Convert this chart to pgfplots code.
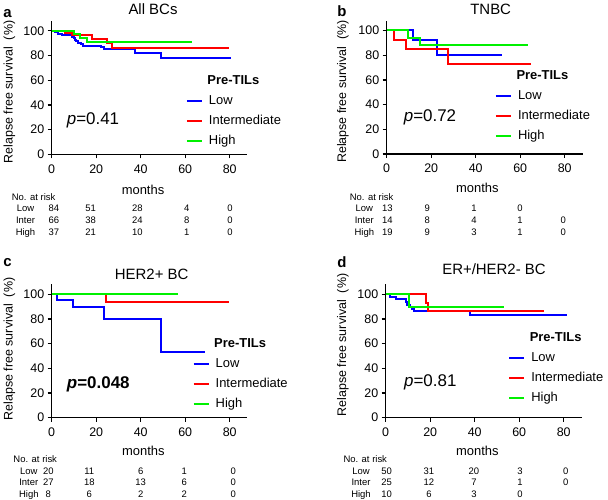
\documentclass[border=0pt]{standalone}
\usepackage{fontspec}
\setmainfont{Liberation Sans}
\usepackage{pgfplots}
\pgfplotsset{compat=1.18}
\definecolor{cLow}{RGB}{0,0,255}
\definecolor{cInt}{RGB}{255,0,0}
\definecolor{cHigh}{RGB}{0,240,0}
\newcommand\fs[1]{\fontsize{#1}{#1}\selectfont}
\pgfplotsset{
 km/.style={
   scale only axis, width=195.8bp, height=133.4bp,
   xmin=0, xmax=88, ymin=0, ymax=108,
   axis x line*=bottom, axis y line*=left,
   axis line style={line width=1.3bp, black},
   xtick={0,20,40,60,80}, ytick={0,20,40,60,80,100},
   tick align=outside, major tick length=4bp,
   tick style={line width=1.3bp, black},
   tick label style={font=\fs{12.5}},
   /pgf/number format/assume math mode=true,
   xticklabel style={yshift=-2.5bp},
   clip=false,
   legend cell align=left,
   legend style={draw=none, fill=none, inner sep=0pt, outer sep=0pt, anchor=north west,
      font=\fs{13},
      nodes={text height=9.4bp, text depth=2.6bp, inner ysep=4bp, inner xsep=3bp},
      column sep=3bp, row sep=0pt},
   legend image code/.code={\draw[#1, line width=2bp] (0bp,0bp) -- (15bp,0bp);},
   every axis plot/.append style={const plot, line width=2bp, line join=miter},
 }
}
\begin{document}
\begin{tikzpicture}
\useasboundingbox (0bp,0bp) rectangle (608bp,500bp);

% ---------- a ----------
\begin{axis}[km, at={(51.7bp,345.7bp)}, anchor=south west,
  legend style={at={(axis description cs:0.6859,0.6226)}}]
\addlegendimage{opacity=0}\addlegendentry{\hspace{-1.5bp}\textbf{Pre-TILs}}
\addplot[cLow] coordinates {(0,100)(1.5,98.8)(3,97.6)(4.5,96.4)(9,95.2)(10,94)(10.5,92.8)(11,91.6)(12,90.4)(13,89.2)(14,88)(22,86.7)(23.5,85.3)(37.5,81.7)(49,78)(80.5,78)};
\addlegendentry{Low}
\addplot[cInt] coordinates {(0,100)(6,98.6)(9,96.5)(18,93)(25,89.7)(27,86.4)(79.5,86.4)};
\addlegendentry{Intermediate}
\addplot[cHigh] coordinates {(0,100)(10,97.3)(12.5,94.5)(16,91.3)(63,91.3)};
\addlegendentry{High}
\end{axis}

% ---------- b ----------
\begin{axis}[km, at={(386.7bp,346bp)}, anchor=south west,
  legend style={at={(axis description cs:0.5531,0.6578)}}]
\addlegendimage{opacity=0}\addlegendentry{\hspace{-1.5bp}\textbf{Pre-TILs}}
\addplot[cLow] coordinates {(0,100)(11.8,92.3)(22.6,80)(52,80)};
\addlegendentry{Low}
\addplot[cInt] coordinates {(0,100)(3.5,92.3)(8.6,84.7)(27.4,72.6)(65,72.6)};
\addlegendentry{Intermediate}
\addplot[cHigh] coordinates {(0,100)(9.7,94.2)(15,88)(63.5,88)};
\addlegendentry{High}
\end{axis}

% ---------- c ----------
\begin{axis}[km, at={(51.7bp,82.3bp)}, anchor=south west,
  legend style={at={(axis description cs:0.7201,0.6293)}}]
\addlegendimage{opacity=0}\addlegendentry{\hspace{-1.5bp}\textbf{Pre-TILs}}
\addplot[cLow] coordinates {(0,100)(2.5,95)(9.5,89.5)(23.4,80)(49,53.5)(69,53.5)};
\addlegendentry{Low}
\addplot[cInt] coordinates {(0,100)(24.5,94)(79.5,94)};
\addlegendentry{Intermediate}
\addplot[cHigh] coordinates {(0,100)(56.7,100)};
\addlegendentry{High}
\end{axis}

% ---------- d ----------
\begin{axis}[km, at={(385.7bp,82.3bp)}, anchor=south west,
  legend style={at={(axis description cs:0.6261,0.6705)}}]
\addlegendimage{opacity=0}\addlegendentry{\hspace{-1.5bp}\textbf{Pre-TILs}}
\addplot[cLow] coordinates {(0,100)(2.1,97.9)(4.5,95.7)(9,93.3)(9.6,91.2)(10.8,89.3)(12,87.9)(12.6,86.6)(38,83)(81.5,83)};
\addlegendentry{Low}
\addplot[cInt] coordinates {(0,100)(18,93)(18.8,86.4)(71,86.4)};
\addlegendentry{Intermediate}
\addplot[cHigh] coordinates {(0,100)(10.5,90)(53,90)};
\addlegendentry{High}
\end{axis}

\begin{scope}[x=1bp,y=1bp]
% ---------- titles, letters ----------
\node[anchor=base, font=\fs{15}] at (153,{500-15}) {All BCs};
\node[anchor=base, font=\fs{15}] at (490.7,{500-15}) {TNBC};
\node[anchor=base, font=\fs{15}] at (151.7,{500-279}) {HER2+ BC};
\node[anchor=base, font=\fs{15}] at (494,{500-274.5}) {ER+/HER2- BC};
\node[anchor=base, font=\bfseries\fs{15}] at (7.5,{500-17.3}) {a};
\node[anchor=base, font=\bfseries\fs{15}] at (342,{500-16.7}) {b};
\node[anchor=base, font=\bfseries\fs{15}] at (7.5,{500-266.7}) {c};
\node[anchor=base, font=\bfseries\fs{15}] at (342,{500-267.3}) {d};

% ---------- y labels ----------
\foreach \x/\y in {9.5/92, 343/91.5, 9.5/349, 343/345}
  \node[rotate=90, font=\fs{12.5}] at (\x,{500-\y}) {Relapse free survival\ \ (\%)};

% ---------- x labels ----------
\foreach \x/\y in {143/194.3, 477.3/192.7, 143.3/455.7, 477.3/455.7}
  \node[anchor=base, font=\fs{13}] at (\x,{500-\y}) {months};

% ---------- p values ----------
\node[anchor=base, font=\fs{17}] at (93,{500-124}) {\textit{p}=0.41};
\node[anchor=base, font=\fs{17}] at (430,{500-121.7}) {\textit{p}=0.72};
\node[anchor=base, font=\bfseries\fs{17}] at (98.3,{500-388.3}) {\textit{p}=0.048};
\node[anchor=base, font=\fs{17}] at (430.3,{500-386.7}) {\textit{p}=0.81};

% ---------- risk tables ----------
\begin{scope}[every node/.style={font=\fs{9.5}, anchor=base, inner sep=0pt}]
% a
\node[anchor=base west] at (11.7,{500-200}) {No. at risk};
\foreach \l/\y in {Low/211.7, Inter/223.3, High/235} \node at (25.5,{500-\y}) {\l};
\foreach \x/\v in {54/84, 90.7/51, 137.3/28, 186.7/4, 230/0} \node at (\x,{500-211.7}) {\v};
\foreach \x/\v in {54/66, 90.7/38, 137.3/24, 186.7/8, 230/0} \node at (\x,{500-223.3}) {\v};
\foreach \x/\v in {54/37, 90.7/21, 137.3/10, 186.7/1, 230/0} \node at (\x,{500-235}) {\v};
% b
\node[anchor=base west] at (349.7,{500-200}) {No. at risk};
\foreach \l/\y in {Low/211.7, Inter/223.3, High/235} \node at (364.3,{500-\y}) {\l};
\foreach \x/\v in {387.3/13, 427.3/9, 474/1, 520/0} \node at (\x,{500-211.7}) {\v};
\foreach \x/\v in {387.3/14, 427.3/8, 474/4, 520/1, 563.3/0} \node at (\x,{500-223.3}) {\v};
\foreach \x/\v in {387.3/19, 427.3/9, 474/3, 520/1, 563.3/0} \node at (\x,{500-235}) {\v};
% c
\node[anchor=base west] at (13.3,{500-462.3}) {No. at risk};
\foreach \l/\y in {Low/474, Inter/485.7, High/497} \node at (28.8,{500-\y}) {\l};
\foreach \x/\v in {48.3/20, 89.3/11, 140.7/6, 184.3/1, 233.3/0} \node at (\x,{500-474}) {\v};
\foreach \x/\v in {48.3/27, 89.3/18, 140.7/13, 184.3/6, 233.3/0} \node at (\x,{500-485.7}) {\v};
\foreach \x/\v in {48.3/8, 89.3/6, 140.7/2, 184.3/2, 233.3/0} \node at (\x,{500-497}) {\v};
% d
\node[anchor=base west] at (343.3,{500-462.3}) {No. at risk};
\foreach \l/\y in {Low/474, Inter/485.7, High/497} \node at (361,{500-\y}) {\l};
\foreach \x/\v in {386.7/50, 429/31, 474/20, 520/3, 565.7/0} \node at (\x,{500-474}) {\v};
\foreach \x/\v in {386.7/25, 429/12, 474/7, 520/1, 565.7/0} \node at (\x,{500-485.7}) {\v};
\foreach \x/\v in {386.7/10, 429/6, 474/3, 520/0} \node at (\x,{500-497}) {\v};
\end{scope}
\end{scope}
\end{tikzpicture}
\end{document}
